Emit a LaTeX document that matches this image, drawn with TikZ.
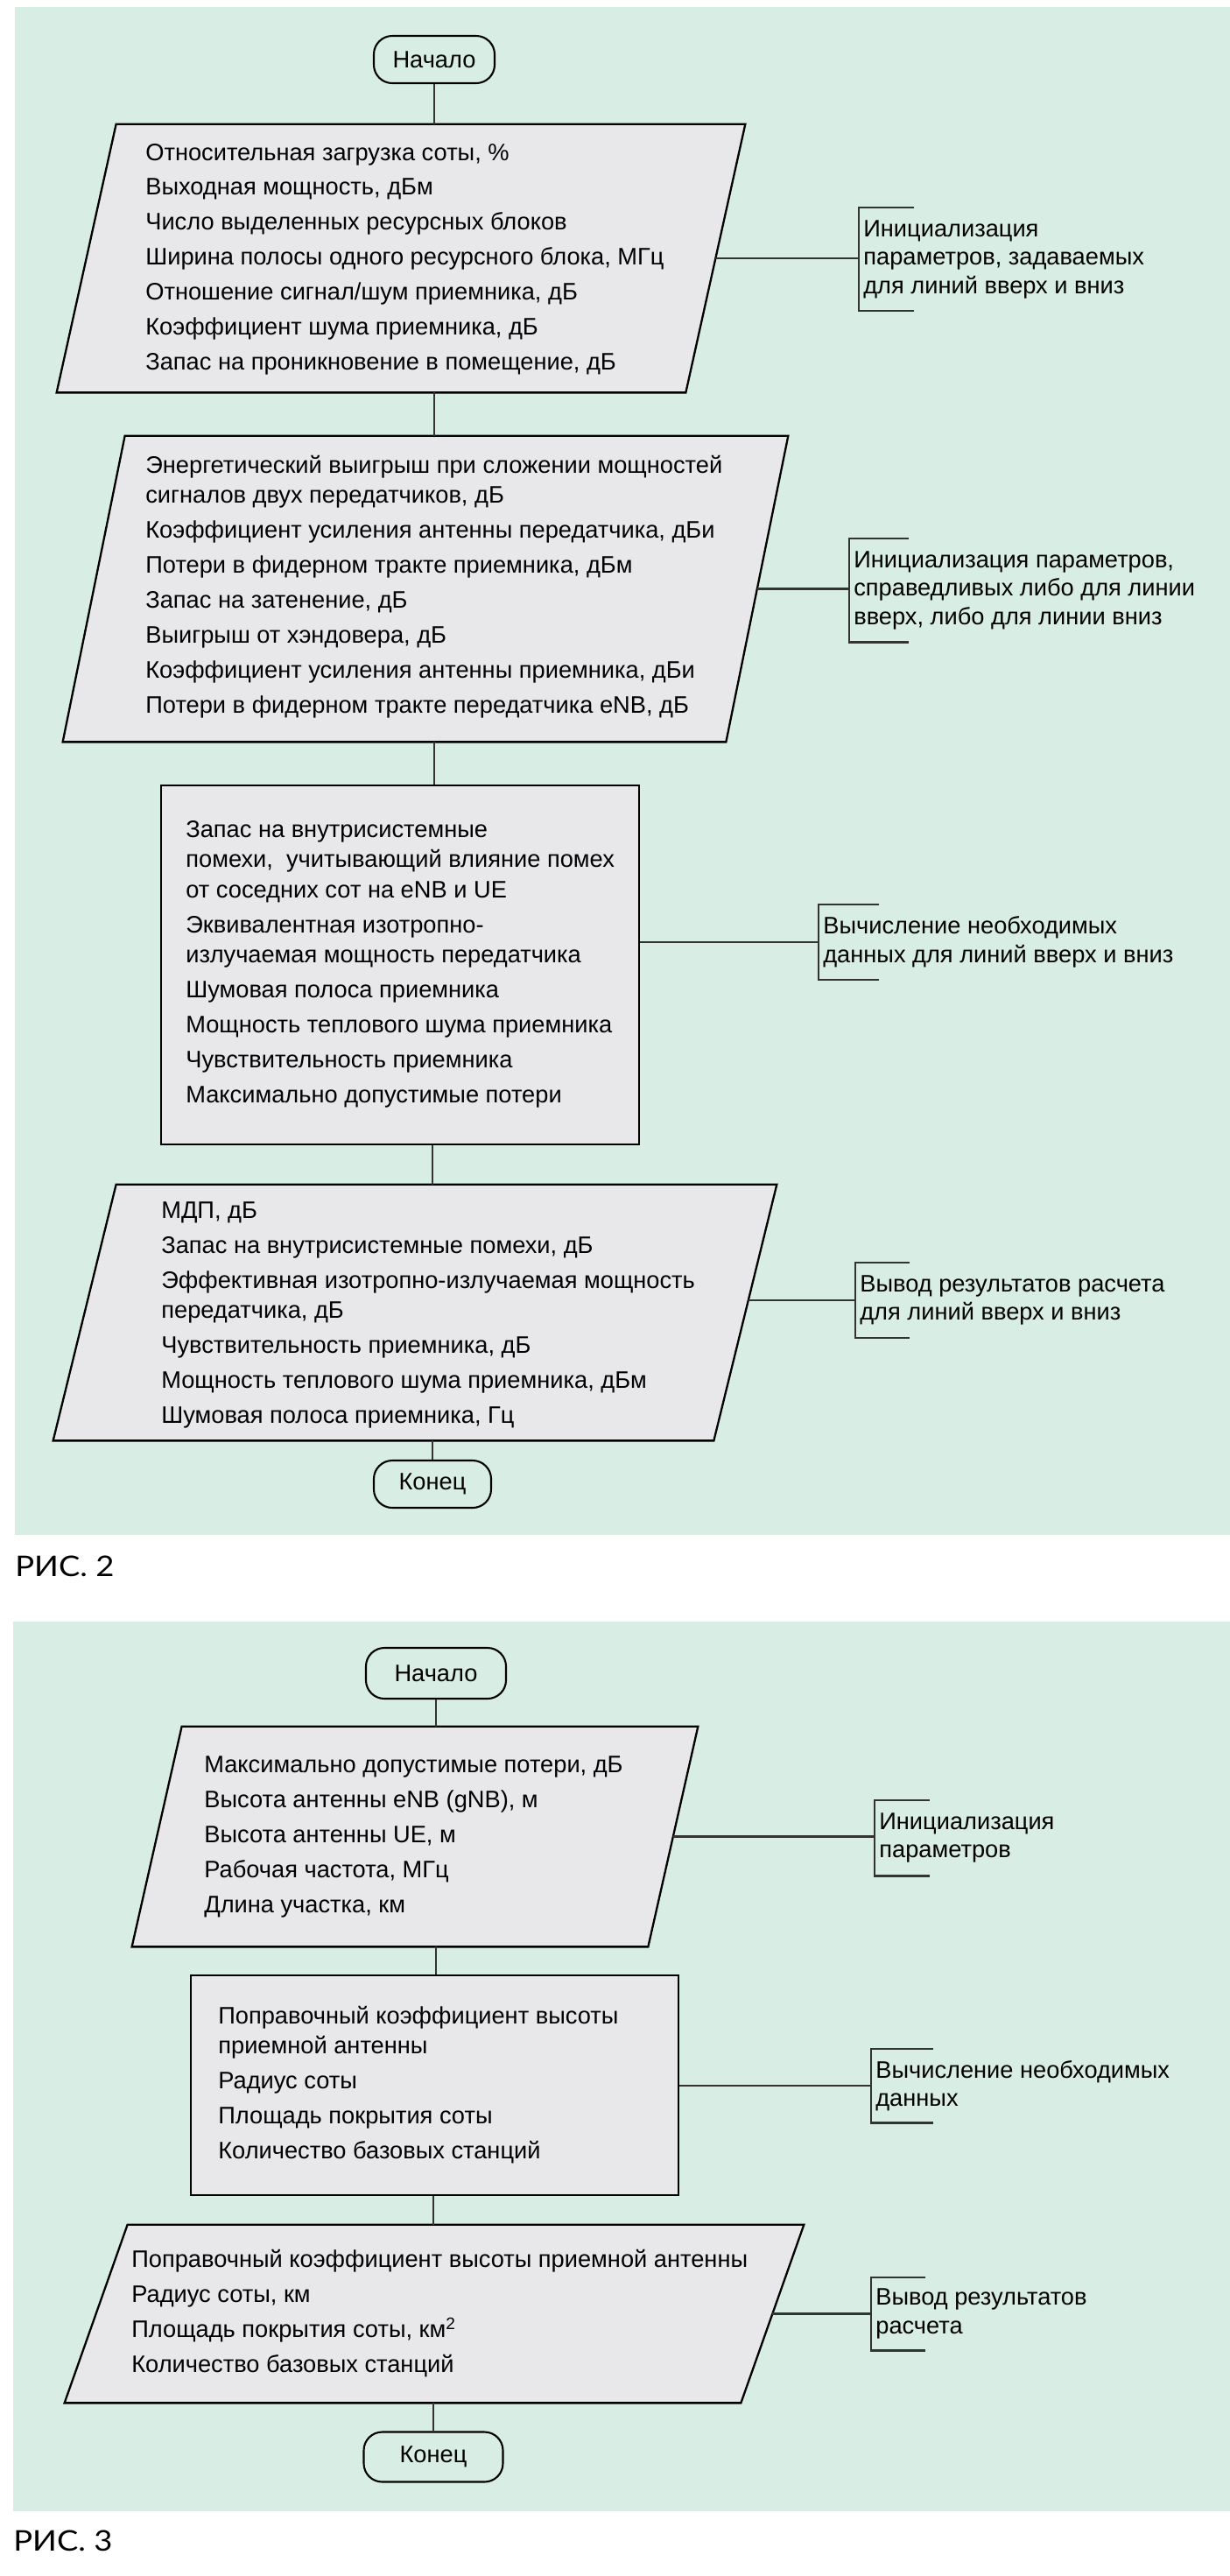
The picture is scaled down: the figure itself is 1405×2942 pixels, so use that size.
\documentclass[tikz,border=0pt]{standalone}
\usepackage{fontspec}
\setmainfont{Liberation Sans}
\newfontfamily\capfont{Lato}[FakeStretch=1.12]
\usepackage{xcolor}
\definecolor{panelBg}{HTML}{D8EEE4}
\definecolor{boxFill}{HTML}{E8E8EB}
\definecolor{lineGray}{HTML}{333333}
\usetikzlibrary{positioning, calc}

\begin{document}
\begin{tikzpicture}[x=0.2mm, y=-0.2mm,
  sz/.style 2 args={minimum width=#1*0.2mm, minimum height=#2*0.2mm},
  brkh/.style={minimum height=#1*0.2mm},
  term/.style={draw, line width=1.2pt, rounded corners=12pt, fill=panelBg,
    font=\fontsize{15.5}{18}\selectfont, inner sep=0pt},
  edge/.style={draw=black, line width=1.3pt, fill=boxFill},
  body/.style={font=\fontsize{15.5}{19.6}\selectfont, align=left,
    inner sep=0pt, anchor=west},
  conn/.style={draw=lineGray, line width=1.2pt},
  brk/.style={draw=lineGray, line width=1.3pt},
  note/.style={font=\fontsize{15.5}{18.5}\selectfont, align=left, anchor=west,
    inner xsep=1mm, inner ysep=0pt},
  figcap/.style={font=\capfont\fontsize{18.5}{20}\selectfont, anchor=west,
    inner sep=0pt}
]
  \useasboundingbox (0,0) rectangle (1405,2942);
  \fill[white] (0,0) rectangle (1405,2942);

  % panels
  \fill[panelBg] (17,8) rectangle (1405,1753);
  \fill[panelBg] (15,1852) rectangle (1405,2868);

  %% Fig. 2
  \node[term, sz={138}{54}] (start2) at (496,68) {Начало};

  % input: common parameters
  \node[sz={786}{306}] (p1) at (458,295) {};
  \draw[edge] ($(p1.north west)+(68,0)$) -- (p1.north east)
    -- ($(p1.south east)-(68,0)$) -- (p1.south west) -- cycle;
  \node[body] (p1txt) at (166,296) {Относительная загрузка соты, \%\\[3.1pt]
    Выходная мощность, дБм\\[3.1pt]
    Число выделенных ресурсных блоков\\[3.1pt]
    Ширина полосы одного ресурсного блока, МГц\\[3.1pt]
    Отношение сигнал/шум приемника, дБ\\[3.1pt]
    Коэффициент шума приемника, дБ\\[3.1pt]
    Запас на проникновение в помещение, дБ};

  % input: up or down link
  \node[sz={828}{349}] (p2) at (486,672.5) {};
  \draw[edge] ($(p2.north west)+(71,0)$) -- (p2.north east)
    -- ($(p2.south east)-(71,0)$) -- (p2.south west) -- cycle;
  \node[body] (p2txt) at (166,670) {Энергетический выигрыш при сложении мощностей\\
    сигналов двух передатчиков, дБ\\[3.1pt]
    Коэффициент усиления антенны передатчика, дБи\\[3.1pt]
    Потери в фидерном тракте приемника, дБм\\[3.1pt]
    Запас на затенение, дБ\\[3.1pt]
    Выигрыш от хэндовера, дБ\\[3.1pt]
    Коэффициент усиления антенны приемника, дБи\\[3.1pt]
    Потери в фидерном тракте передатчика eNB, дБ};

  % process
  \node[edge, sz={546}{410}] (b3) at (457,1102) {};
  \node[body] (b3txt) at (212,1101) {Запас на внутрисистемные\\
    помехи,\ \ учитывающий влияние помех\\
    от соседних сот на eNB и UE\\[3.1pt]
    Эквивалентная изотропно-\\
    излучаемая мощность передатчика\\[3.1pt]
    Шумовая полоса приемника\\[3.1pt]
    Мощность теплового шума приемника\\[3.1pt]
    Чувствительность приемника\\[3.1pt]
    Максимально допустимые потери};

  % output
  \node[sz={826}{292}] (p4) at (474,1499) {};
  \draw[edge] ($(p4.north west)+(72,0)$) -- (p4.north east)
    -- ($(p4.south east)-(72,0)$) -- (p4.south west) -- cycle;
  \node[body] (p4txt) at (184,1502) {МДП, дБ\\[3.1pt]
    Запас на внутрисистемные помехи, дБ\\[3.1pt]
    Эффективная изотропно-излучаемая мощность\\
    передатчика, дБ\\[3.1pt]
    Чувствительность приемника, дБ\\[3.1pt]
    Мощность теплового шума приемника, дБм\\[3.1pt]
    Шумовая полоса приемника, Гц};

  \node[term, sz={134}{54}] (end2) at (494,1695) {Конец};

  \draw[conn] (start2) -- (start2 |- p1.north);
  \draw[conn] (p1.south -| start2) -- (p2.north -| start2);
  \draw[conn] (p2.south -| start2) -- (b3.north -| start2);
  \draw[conn] (b3.south -| end2) -- (p4.north -| end2);
  \draw[conn] (p4.south -| end2) -- (end2);

  % side notes
  \coordinate (p1r) at ($(p1.east)+(-34,0)$);
  \node[note, brkh=117] (n1) at (981,296) {Инициализация\\параметров, задаваемых\\для линий вверх и вниз};
  \draw[conn] (p1r) -- (p1r -| n1.west);
  \draw[brk] ($(n1.north west)+(63,0)$) -- (n1.north west) -- (n1.south west) -- ++(63,0);

  \coordinate (p2r) at ($(p2.east)+(-35.5,0)$);
  \node[note, brkh=118] (n2) at (970,674) {Инициализация параметров,\\справедливых либо для линии\\вверх, либо для линии вниз};
  \draw[conn] (p2r) -- (p2r -| n2.west);
  \draw[brk] ($(n2.north west)+(68,0)$) -- (n2.north west) -- (n2.south west) -- ++(68,0);

  \node[note, brkh=85] (n3) at (935,1076) {Вычисление необходимых\\данных для линий вверх и вниз};
  \draw[conn] (n3.west -| b3.east) -- (n3.west);
  \draw[brk] ($(n3.north west)+(69,0)$) -- (n3.north west) -- (n3.south west) -- ++(69,0);

  \coordinate (p4r) at ($(p4.east)+(-32.5,-14)$);
  \node[note, brkh=85] (n4) at (977,1485) {Вывод результатов расчета\\для линий вверх и вниз};
  \draw[conn] (p4r) -- (p4r -| n4.west);
  \draw[brk] ($(n4.north west)+(62,0)$) -- (n4.north west) -- (n4.south west) -- ++(62,0);

  \node[figcap] (cap2) at (17,1789) {РИС. 2};

  %% Fig. 3
  \node[term, sz={160}{58}] (start3) at (498,1911) {Начало};

  \node[sz={646}{251}] (p5) at (474,2097.5) {};
  \draw[edge] ($(p5.north west)+(57,0)$) -- (p5.north east)
    -- ($(p5.south east)-(57,0)$) -- (p5.south west) -- cycle;
  \node[body] (p5txt) at (233,2098) {Максимально допустимые потери, дБ\\[3.1pt]
    Высота антенны eNB (gNB), м\\[3.1pt]
    Высота антенны UE, м\\[3.1pt]
    Рабочая частота, МГц\\[3.1pt]
    Длина участка, км};

  \node[edge, sz={557}{251}] (b6) at (496.5,2381.5) {};
  \node[body] (b6txt) at (249,2381) {Поправочный коэффициент высоты\\
    приемной антенны\\[3.1pt]
    Радиус соты\\[3.1pt]
    Площадь покрытия соты\\[3.1pt]
    Количество базовых станций};

  \node[sz={844}{203}] (p7) at (496,2642.5) {};
  \draw[edge] ($(p7.north west)+(72,0)$) -- (p7.north east)
    -- ($(p7.south east)-(72,0)$) -- (p7.south west) -- cycle;
  \node[body] (p7txt) at (150,2642) {Поправочный коэффициент высоты приемной антенны\\[3.1pt]
    Радиус соты, км\\[3.1pt]
    Площадь покрытия соты, км\textsuperscript{2}\\[3.1pt]
    Количество базовых станций};

  \node[term, sz={159}{57}] (end3) at (495,2806) {Конец};

  \draw[conn] (start3) -- (start3 |- p5.north);
  \draw[conn] (p5.south -| start3) -- (b6.north -| start3);
  \draw[conn] (b6.south -| end3) -- (p7.north -| end3);
  \draw[conn] (p7.south -| end3) -- (end3);

  \coordinate (p5r) at ($(p5.east)+(-28.5,0)$);
  \node[note, brkh=86] (n5) at (999,2099) {Инициализация\\параметров};
  \draw[conn] (p5r) -- (p5r -| n5.west);
  \draw[brk] ($(n5.north west)+(63,0)$) -- (n5.north west) -- (n5.south west) -- ++(63,0);

  \node[note, brkh=84] (n6) at (995,2382) {Вычисление необходимых\\данных};
  \draw[conn] (n6.west -| b6.east) -- (n6.west);
  \draw[brk] ($(n6.north west)+(71,0)$) -- (n6.north west) -- (n6.south west) -- ++(71,0);

  \coordinate (p7r) at ($(p7.east)+(-36,0)$);
  \node[note, brkh=83] (n7) at (995,2642.5) {Вывод результатов\\расчета};
  \draw[conn] (p7r) -- (p7r -| n7.west);
  \draw[brk] ($(n7.north west)+(62,0)$) -- (n7.north west) -- (n7.south west) -- ++(62,0);

  \node[figcap] (cap3) at (15,2902) {РИС. 3};
\end{tikzpicture}
\end{document}
